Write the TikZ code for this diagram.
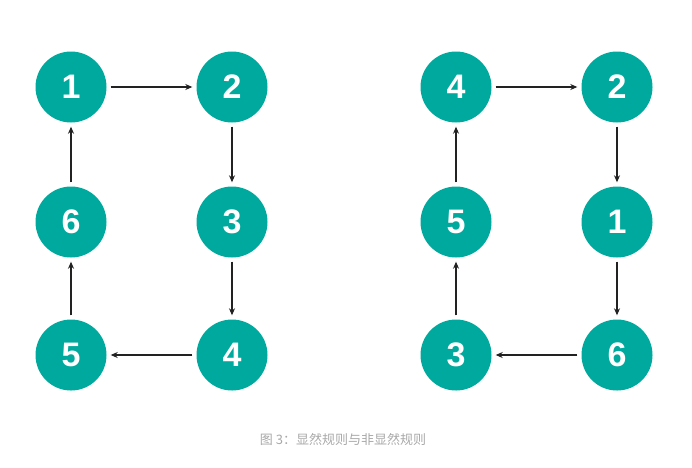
\documentclass[tikz,border=0pt]{standalone}
\usepackage{fontspec}
\setmainfont{Liberation Sans}
\newfontfamily\cjk{Noto Sans CJK SC}
\usetikzlibrary{arrows.meta}
\definecolor{teal1}{HTML}{00A99D}
\definecolor{capgray}{HTML}{A8A8A8}
\definecolor{arr}{HTML}{222222}
\begin{document}
\begin{tikzpicture}[x=1pt,y=-1pt,
  nd/.style={circle,fill=teal1,minimum size=71pt,inner sep=0pt,text=white,font=\bfseries\fontsize{34}{34}\selectfont},
  ar/.style={draw=arr,line width=1.1pt,-{Stealth[length=7pt,width=6pt]},shorten <=4pt,shorten >=4pt}]
\useasboundingbox (0,0) rectangle (692,467);
% left
\node[nd] (a1) at (71,87) {1};
\node[nd] (a2) at (232,87) {2};
\node[nd] (a6) at (71,222) {6};
\node[nd] (a3) at (232,222) {3};
\node[nd] (a5) at (71,355) {5};
\node[nd] (a4) at (232,355) {4};
\draw[ar] (a1) -- (a2);
\draw[ar] (a2) -- (a3);
\draw[ar] (a3) -- (a4);
\draw[ar] (a4) -- (a5);
\draw[ar] (a5) -- (a6);
\draw[ar] (a6) -- (a1);
% right
\node[nd] (b4) at (456,87) {4};
\node[nd] (b2) at (617,87) {2};
\node[nd] (b5) at (456,222) {5};
\node[nd] (b1) at (617,222) {1};
\node[nd] (b3) at (456,355) {3};
\node[nd] (b6) at (617,355) {6};
\draw[ar] (b4) -- (b2);
\draw[ar] (b2) -- (b1);
\draw[ar] (b1) -- (b6);
\draw[ar] (b6) -- (b3);
\draw[ar] (b3) -- (b5);
\draw[ar] (b5) -- (b4);
\node[text=capgray,font=\cjk\fontsize{13}{15}\selectfont] (cap) at (343,440) {图 3：显然规则与非显然规则};
\end{tikzpicture}
\end{document}
